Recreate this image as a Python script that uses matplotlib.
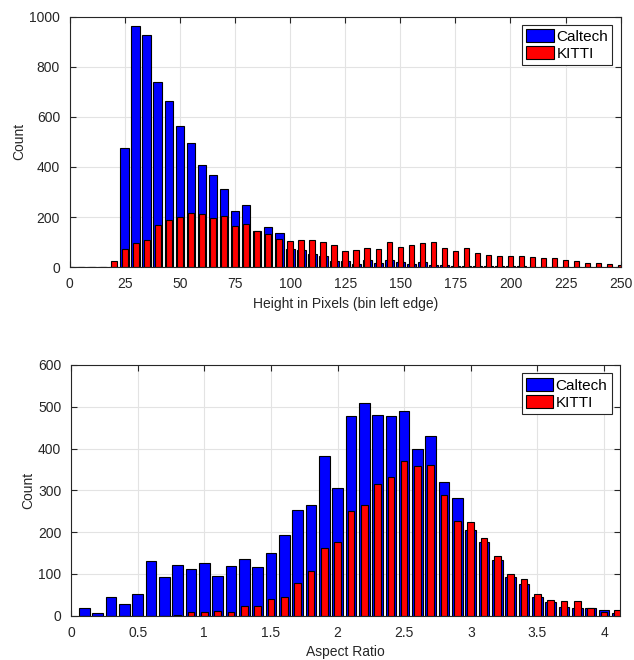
import numpy as np
import matplotlib.pyplot as plt

plt.rcParams['font.family'] = ['Liberation Sans', 'DejaVu Sans']
plt.rcParams['font.size'] = 10

# top histogram: object height (bins of 5 px)
height_bins = np.arange(0, 255, 5)
caltech_height = [2, 2, 2, 2, 2, 477, 964, 927, 738, 665, 564, 496, 406, 370, 314, 223, 249,
                  145, 161, 138, 73, 69, 53, 44, 27, 27, 13, 29, 17, 29, 23, 13, 21, 9,
                  8, 6, 6, 5, 5, 4, 4, 4, 3, 3, 3, 3, 2, 2, 2, 2, 2]
kitti_height = [0, 0, 0, 0, 27, 72, 97, 110, 169, 189, 202, 217, 214, 198, 205, 165, 173,
                144, 133, 114, 105, 110, 108, 102, 90, 66, 69, 78, 72, 100, 81, 89, 98, 100,
                76, 66, 78, 57, 48, 45, 45, 45, 41, 37, 39, 31, 25, 17, 17, 13, 9]

# bottom histogram: aspect ratio (bins of 0.1)
ratio_bins = np.round(np.arange(0.1, 4.15, 0.1), 1)
caltech_ratio = [18, 7, 46, 28, 51, 132, 92, 122, 112, 126, 95, 119, 137, 116, 151, 193,
                 253, 264, 382, 305, 478, 508, 480, 478, 489, 399, 430, 321, 281, 206, 176,
                 133, 92, 76, 45, 33, 22, 18, 18, 15, 7]
kitti_ratio = [0, 0, 0, 0, 0, 0, 0, 3, 10, 10, 11, 9, 24, 23, 41, 45, 79, 106, 161, 177,
               250, 265, 316, 331, 370, 358, 361, 290, 226, 225, 186, 143, 100, 89, 52,
               38, 35, 35, 19, 10, 13]

fig = plt.figure(figsize=(6.34, 6.6), dpi=100)
ax1 = fig.add_axes([0.110, 0.595, 0.869, 0.380])
ax2 = fig.add_axes([0.112, 0.067, 0.866, 0.380])

frame_col = '#262626'


def style(ax):
    ax.set_axisbelow(True)
    ax.grid(True, color='#e3e3e3', linewidth=0.8)
    ax.tick_params(direction='in', top=True, right=True, colors=frame_col, length=4, pad=7)
    for s in ax.spines.values():
        s.set_color(frame_col)
        s.set_linewidth(0.8)
    leg = ax.legend(loc='upper right', fancybox=False, framealpha=1, edgecolor=frame_col,
                    fontsize=11, borderaxespad=0.55, handlelength=1.8, handleheight=0.95,
                    handletextpad=0.15, labelspacing=0.15, borderpad=0.28)
    leg.get_frame().set_linewidth(0.8)


ax1.bar(height_bins, caltech_height, width=4, color='blue', edgecolor='black', linewidth=0.8, label='Caltech')
ax1.bar(height_bins, kitti_height, width=2.5, color='red', edgecolor='black', linewidth=0.8, label='KITTI')
ax1.set_xlim(0, 250)
ax1.set_ylim(0, 1000)
ax1.set_xticks(np.arange(0, 251, 25))
ax1.set_yticks(np.arange(0, 1001, 200))
ax1.set_xlabel('Height in Pixels (bin left edge)', color=frame_col)
ax1.set_ylabel('Count', color=frame_col, labelpad=2)
style(ax1)

ax2.bar(ratio_bins, caltech_ratio, width=0.08, color='blue', edgecolor='black', linewidth=0.8, label='Caltech')
ax2.bar(ratio_bins, kitti_ratio, width=0.05, color='red', edgecolor='black', linewidth=0.8, label='KITTI')
ax2.set_xlim(0, 4.12)
ax2.set_ylim(0, 600)
ax2.set_xticks(np.arange(0, 4.1, 0.5))
ax2.set_xticklabels(['0', '0.5', '1', '1.5', '2', '2.5', '3', '3.5', '4'])
ax2.set_yticks(np.arange(0, 601, 100))
ax2.set_xlabel('Aspect Ratio', color=frame_col)
ax2.set_ylabel('Count', color=frame_col, labelpad=2)
style(ax2)

plt.savefig('out.png', dpi=100)
